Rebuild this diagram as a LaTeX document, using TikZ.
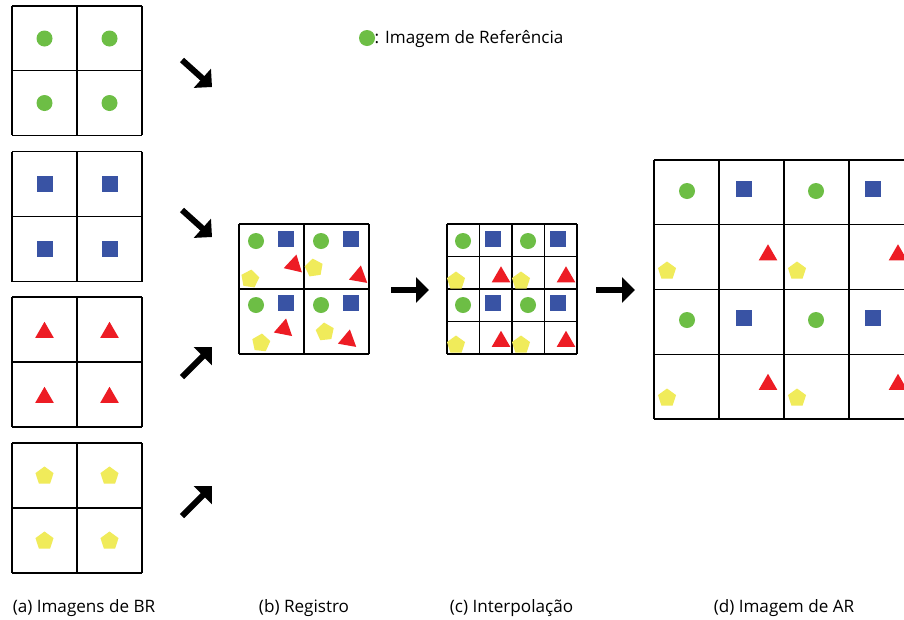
\documentclass[tikz,border=0pt]{standalone}
\usepackage{fontspec}
\setmainfont{Open Sans}
\usetikzlibrary{shapes.geometric,arrows.meta}

\definecolor{refgreen}{RGB}{109,190,69}
\definecolor{refblue}{RGB}{57,83,164}
\definecolor{refred}{RGB}{237,28,36}
\definecolor{refyellow}{RGB}{240,235,90}

\tikzset{
  gridline/.style={draw=black, line width=1.3pt},
  dot/.style={circle, fill=refgreen, minimum size=16pt, inner sep=0pt},
  sqr/.style={rectangle, fill=refblue, minimum size=16pt, inner sep=0pt},
  tri/.style={regular polygon, regular polygon sides=3, fill=refred, minimum size=21.5pt, inner sep=0pt},
  pent/.style={regular polygon, regular polygon sides=5, fill=refyellow, minimum size=19pt, inner sep=0pt},
  bigarrow/.style={line width=6pt, -{Triangle[length=13pt,width=25pt]}},
  caption/.style={font=\fontsize{17.1pt}{20pt}\selectfont, inner sep=0pt},
}

% rectangular cell grid: x0, y0, columns, rows, cell width, cell height
\newcommand{\cellgrid}[6]{%
  \pgfmathsetmacro{\gxend}{#1+#3*#5}%
  \pgfmathsetmacro{\gyend}{#2+#4*#6}%
  \foreach \i in {0,...,#3} {\draw[gridline] ({#1+\i*#5},#2) -- ({#1+\i*#5},\gyend);}
  \foreach \j in {0,...,#4} {\draw[gridline] (#1,{#2+\j*#6}) -- (\gxend,{#2+\j*#6});}
}

\begin{document}
\begin{tikzpicture}[x=1pt,y=-1pt]
\useasboundingbox (0,0) rectangle (904,619);
\clip (0,0) rectangle (904,619);
\fill[white] (0,0) rectangle (904,619);

% ---------- (a) low resolution images ----------
\cellgrid{12}{6}{2}{2}{65}{64.7}
\cellgrid{12}{151.5}{2}{2}{65}{65}
\cellgrid{12}{297}{2}{2}{65}{65}
\cellgrid{12}{443}{2}{2}{65}{65}

\node[dot] (g1) at (44.5,38.5) {};
\node[dot] (g2) at (109.5,38.5) {};
\node[dot] (g3) at (44.5,103) {};
\node[dot] (g4) at (109.5,103) {};

\node[sqr] (b1) at (44.5,184) {};
\node[sqr] (b2) at (109.5,184) {};
\node[sqr] (b3) at (44.5,249) {};
\node[sqr] (b4) at (109.5,249) {};

\node[tri] (r1) at (44.5,332.5) {};
\node[tri] (r2) at (109.5,332.5) {};
\node[tri] (r3) at (44.5,397.5) {};
\node[tri] (r4) at (109.5,397.5) {};

\node[pent] (y1) at (44.5,476) {};
\node[pent] (y2) at (109.5,476) {};
\node[pent] (y3) at (44.5,541) {};
\node[pent] (y4) at (109.5,541) {};

% arrows into the registration step
\coordinate (a1s) at (182,60);  \coordinate (a1e) at (212,87);
\coordinate (a2s) at (182,210); \coordinate (a2e) at (212,237);
\coordinate (a3s) at (182,377); \coordinate (a3e) at (212,347);
\coordinate (a4s) at (182,516); \coordinate (a4e) at (212,486);
\draw[bigarrow] (a1s) -- (a1e);
\draw[bigarrow] (a2s) -- (a2e);
\draw[bigarrow] (a3s) -- (a3e);
\draw[bigarrow] (a4s) -- (a4e);

% ---------- (b) registration ----------
\cellgrid{239}{224}{2}{2}{65}{65}
\node[dot] (bg1) at (256,241) {};
\node[sqr] (bb1) at (286,239) {};
\node[tri, rotate=-13] (br1) at (294,265) {};
\node[pent, rotate=-8] (by1) at (250,279) {};

\node[dot] (bg2) at (321,241) {};
\node[sqr] (bb2) at (351,239) {};
\node[pent, rotate=8] (by2) at (314,268) {};
\node[tri, rotate=-10] (br2) at (359,276) {};

\node[dot] (bg3) at (256,305) {};
\node[sqr] (bb3) at (286,303) {};
\node[tri, rotate=-11] (br3) at (284,329) {};
\node[pent, rotate=-6] (by3) at (261,343) {};

\node[dot] (bg4) at (321,305) {};
\node[sqr] (bb4) at (351,303) {};
\node[pent, rotate=6] (by4) at (325,332) {};
\node[tri, rotate=-10] (br4) at (348,340) {};

\coordinate (h1s) at (391,290); \coordinate (h1e) at (429,290);
\draw[bigarrow] (h1s) -- (h1e);

% ---------- (c) interpolation ----------
\cellgrid{447}{224}{4}{4}{32.5}{32.5}
\node[dot] (cg1) at (463,241) {};
\node[sqr] (cb1) at (493,239) {};
\node[dot] (cg2) at (528,241) {};
\node[sqr] (cb2) at (558,239) {};
\node[pent] (cy1) at (456,281) {};
\node[tri] (cr1) at (501,277) {};
\node[pent] (cy2) at (521,281) {};
\node[tri] (cr2) at (566,277) {};
\node[dot] (cg3) at (463,305) {};
\node[sqr] (cb3) at (493,303) {};
\node[dot] (cg4) at (528,305) {};
\node[sqr] (cb4) at (558,303) {};
\node[pent] (cy3) at (456,345) {};
\node[tri] (cr3) at (501,341.5) {};
\node[pent] (cy4) at (521,345) {};
\node[tri] (cr4) at (566,341.5) {};

\coordinate (h2s) at (596,290); \coordinate (h2e) at (635,290);
\draw[bigarrow] (h2s) -- (h2e);

% ---------- (d) high resolution image ----------
\cellgrid{654}{160}{4}{4}{65}{64.75}
\node[dot] (dg1) at (687,191) {};
\node[sqr] (db1) at (744,189) {};
\node[dot] (dg2) at (816,191) {};
\node[sqr] (db2) at (873,189) {};
\node[tri] (dr1) at (768,255) {};
\node[pent] (dy1) at (667,271) {};
\node[pent] (dy2) at (797,271) {};
\node[tri] (dr2) at (898,255) {};
\node[dot] (dg3) at (687,320) {};
\node[sqr] (db3) at (744,318) {};
\node[dot] (dg4) at (816,320) {};
\node[sqr] (db4) at (873,318) {};
\node[tri] (dr3) at (768,384.5) {};
\node[pent] (dy3) at (667,398) {};
\node[pent] (dy4) at (797,398) {};
\node[tri] (dr4) at (898,384.5) {};

% ---------- legend ----------
\node[dot] (leg) at (367,38) {};
\node[caption, anchor=west] (legtxt) at (374.5,39.5) {: Imagem de Referência};

% ---------- captions ----------
\node[caption] (capa) at (84,608.5) {(a) Imagens de BR};
\node[caption] (capb) at (304,608.5) {(b) Registro};
\node[caption] (capc) at (511.5,608.5) {(c) Interpolação};
\node[caption] (capd) at (784,608.5) {(d) Imagem de AR};
\end{tikzpicture}
\end{document}
